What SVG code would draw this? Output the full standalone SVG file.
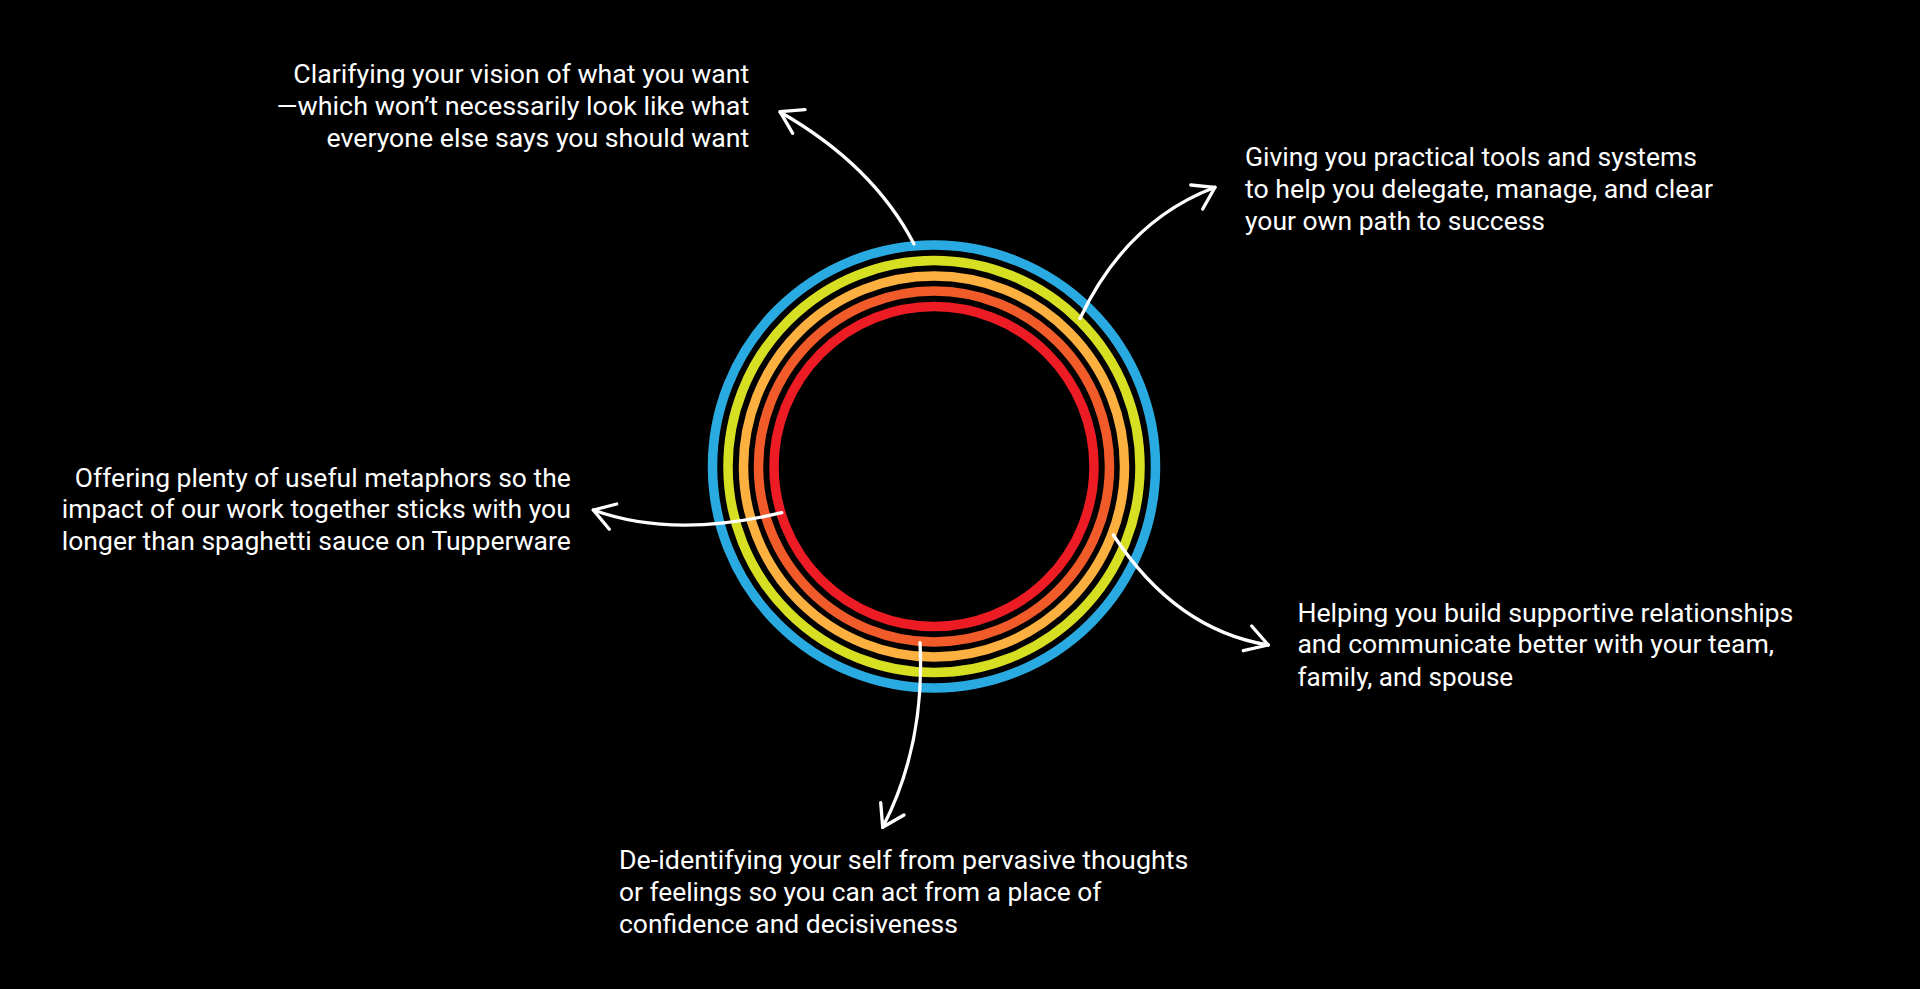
<svg xmlns="http://www.w3.org/2000/svg" width="1920" height="989" viewBox="0 0 1920 989">
<style>
.ring{fill:none;stroke-width:9.5}
.conn{fill:none;stroke:#ffffff;stroke-width:3.3;stroke-linecap:round;stroke-linejoin:round}
.lbl{font-family:Roboto,"Liberation Sans",sans-serif;font-size:25px;fill:#ffffff}
</style>
<rect width="1920" height="989" fill="#000000"/>
<g id="rings">
<circle class="ring" cx="934" cy="466.5" r="221.5" stroke="#29ABE2"/>
<circle class="ring" cx="934" cy="466.5" r="206" stroke="#D7DF23"/>
<circle class="ring" cx="934" cy="466.5" r="190.5" stroke="#FBB040"/>
<circle class="ring" cx="934" cy="466.5" r="175.5" stroke="#F15A29"/>
<circle class="ring" cx="934" cy="466.5" r="160" stroke="#ED1C24"/>
</g>
<g id="connectors">
<path class="conn" d="M914,244 Q873,165 780,112"/>
<path class="conn" d="M805,109.7 L780,111.7 L792.7,133.3"/>
<path class="conn" d="M1080,318.5 Q1126,221 1215,187.3"/>
<path class="conn" d="M1190.7,185 L1215,187.3 L1202.7,209"/>
<path class="conn" d="M781.7,512.7 Q672.5,538.7 593.3,510"/>
<path class="conn" d="M616.7,504 L593.3,510 L609.3,529.3"/>
<path class="conn" d="M1113.3,535 Q1175.8,630 1268.3,645"/>
<path class="conn" d="M1251.7,626 L1268.3,645 L1243.3,650.7"/>
<path class="conn" d="M920,642.7 Q925.3,745 882.7,827.3"/>
<path class="conn" d="M880.7,802.7 L882.7,827.3 L904,815"/>
</g>
<g id="node-vision">
<text class="lbl" text-anchor="end" x="749.3" y="83.3" textLength="456" lengthAdjust="spacingAndGlyphs">Clarifying your vision of what you want</text>
<text class="lbl" text-anchor="end" x="749.3" y="115" textLength="472.7" lengthAdjust="spacingAndGlyphs">—which won’t necessarily look like what</text>
<text class="lbl" text-anchor="end" x="749.3" y="146.7" textLength="422.7" lengthAdjust="spacingAndGlyphs">everyone else says you should want</text>
</g>
<g id="node-tools">
<text class="lbl" x="1245" y="166" textLength="452" lengthAdjust="spacingAndGlyphs">Giving you practical tools and systems</text>
<text class="lbl" x="1245" y="198" textLength="468" lengthAdjust="spacingAndGlyphs">to help you delegate, manage, and clear</text>
<text class="lbl" x="1245" y="230" textLength="300" lengthAdjust="spacingAndGlyphs">your own path to success</text>
</g>
<g id="node-metaphors">
<text class="lbl" text-anchor="end" x="570.8" y="487.3" textLength="496" lengthAdjust="spacingAndGlyphs">Offering plenty of useful metaphors so the</text>
<text class="lbl" text-anchor="end" x="570.8" y="518.3" textLength="509" lengthAdjust="spacingAndGlyphs">impact of our work together sticks with you</text>
<text class="lbl" text-anchor="end" x="570.8" y="550" textLength="509" lengthAdjust="spacingAndGlyphs">longer than spaghetti sauce on Tupperware</text>
</g>
<g id="node-relationships">
<text class="lbl" x="1297.4" y="621.7" textLength="496" lengthAdjust="spacingAndGlyphs">Helping you build supportive relationships</text>
<text class="lbl" x="1297.4" y="653.3" textLength="476.6" lengthAdjust="spacingAndGlyphs">and communicate better with your team,</text>
<text class="lbl" x="1297.4" y="685.7" textLength="215.8" lengthAdjust="spacingAndGlyphs">family, and spouse</text>
</g>
<g id="node-deidentify">
<text class="lbl" x="619" y="869.3" textLength="569.4" lengthAdjust="spacingAndGlyphs">De-identifying your self from pervasive thoughts</text>
<text class="lbl" x="619" y="901" textLength="482.4" lengthAdjust="spacingAndGlyphs">or feelings so you can act from a place of</text>
<text class="lbl" x="619" y="932.7" textLength="338.9" lengthAdjust="spacingAndGlyphs">confidence and decisiveness</text>
</g>
</svg>
